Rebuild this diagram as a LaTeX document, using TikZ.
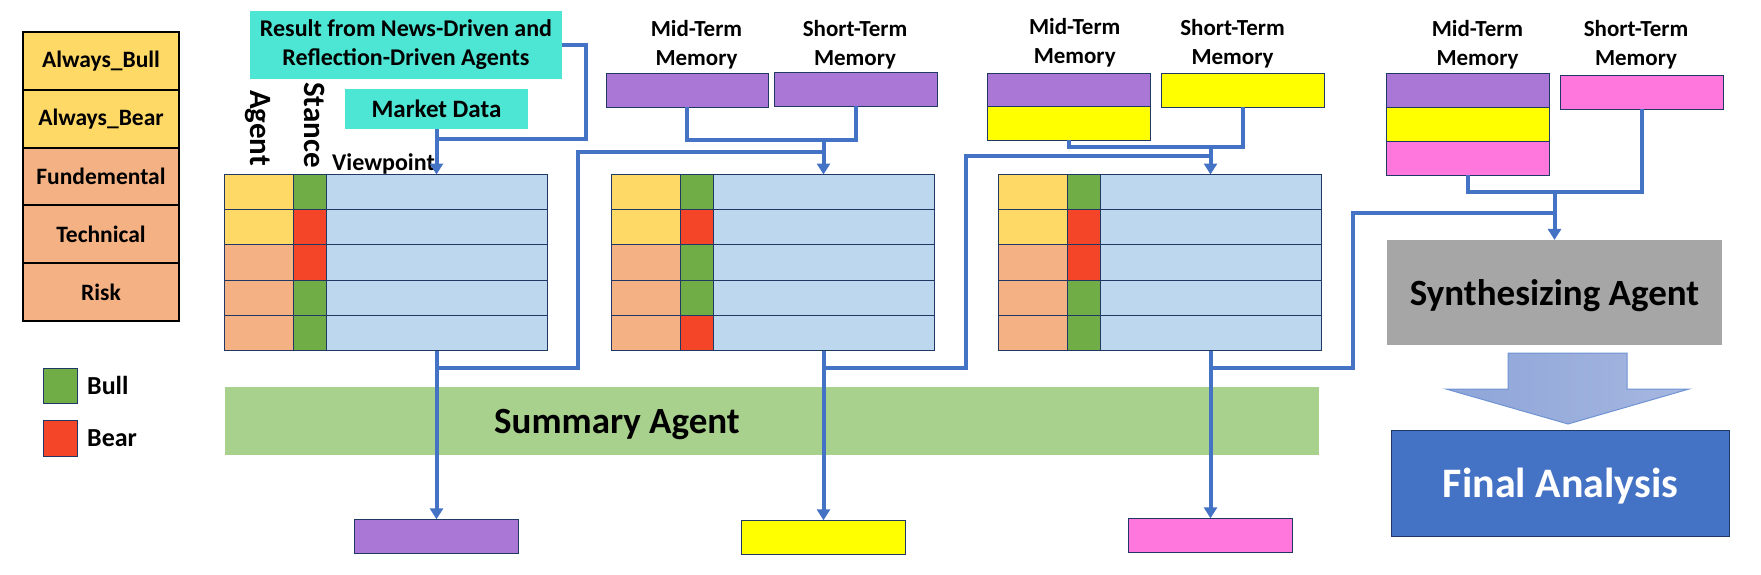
\documentclass[tikz,border=0pt]{standalone}
\usepackage{fontspec}
\setmainfont{Carlito}
\usetikzlibrary{arrows.meta}
\definecolor{yel}{HTML}{FFD966}
\definecolor{ora}{HTML}{F4B183}
\definecolor{bullc}{HTML}{70AD47}
\definecolor{bearc}{HTML}{F44528}
\definecolor{viewc}{HTML}{BDD7EE}
\definecolor{purp}{HTML}{AB77D6}
\definecolor{yelm}{HTML}{FFFF00}
\definecolor{pinkc}{HTML}{FF77DD}
\definecolor{tealc}{HTML}{4DE5D3}
\definecolor{sumc}{HTML}{A9D18E}
\definecolor{grayc}{HTML}{A6A6A6}
\definecolor{bluec}{HTML}{4472C4}
\definecolor{navy}{HTML}{1F3864}
\definecolor{arrl}{HTML}{8EA5D8}
\definecolor{arrr}{HTML}{A6B7E0}
\definecolor{arrb}{HTML}{6F93D3}
\begin{document}
\begin{tikzpicture}[x=1pt,y=-1pt,
  cell/.style={draw=navy,line width=1pt,anchor=north west,inner sep=0pt,outer sep=0pt,minimum height=35.2pt},
  agc/.style={cell,minimum width=69pt},
  stc/.style={cell,minimum width=33pt},
  vwc/.style={cell,minimum width=221pt,fill=viewc},
  membox/.style={draw=navy,line width=1pt,inner sep=0pt,outer sep=0pt,minimum width=163pt,minimum height=34pt},
  memlabel/.style={align=center,font=\fontsize{23}{29}\selectfont\bfseries,inner sep=0pt},
  conn/.style={draw=bluec,line width=4pt},
  arr/.style={conn,-{Triangle[width=13pt,length=11pt]}},
  leg/.style={draw=black,line width=2pt,anchor=north west,minimum width=156pt,minimum height=57.8pt,inner sep=0pt,outer sep=0pt,font=\fontsize{23.5}{28}\selectfont\bfseries},
  keybox/.style={draw=navy,line width=1pt,anchor=north west,minimum width=34pt,minimum height=35pt,inner sep=0pt,outer sep=0pt},
  keytext/.style={anchor=west,inner sep=0pt,font=\fontsize{26}{30}\selectfont\bfseries},
  teal box/.style={fill=tealc,inner sep=0pt,outer sep=0pt,align=center},
  hdr/.style={rotate=-90,anchor=base west,inner sep=0pt,font=\fontsize{31}{31}\selectfont\bfseries},
]
\useasboundingbox (0,0) rectangle (1761,574);

% ---------- legend ----------
\node[leg,fill=yel] (l1) at (23,32) {Always\_Bull};
\node[leg,fill=yel] (l2) at (23,89.8) {Always\_Bear};
\node[leg,fill=ora] (l3) at (23,147.6) {Fundemental};
\node[leg,fill=ora] (l4) at (23,205.4) {Technical};
\node[leg,fill=ora] (l5) at (23,263.2) {Risk};
\node[keybox,fill=bullc] (kbull) at (43,368) {};
\node[keytext] (tbull) at (87,385.5) {Bull};
\node[keybox,fill=bearc,minimum height=36pt] (kbear) at (43,420) {};
\node[keytext] (tbear) at (87,438) {Bear};

% ---------- summary bar (behind connectors) ----------
\node[fill=sumc,minimum width=1094pt,minimum height=68pt,inner sep=0pt,outer sep=0pt] (sum) at (772,421) {};
\node[inner sep=0pt,font=\fontsize{37}{40}\selectfont\bfseries] (sumt) at (617,424) {Summary Agent};

% ---------- inputs ----------
\node[teal box,minimum width=312pt,minimum height=68pt,font=\fontsize{24}{29}\selectfont\bfseries] (res) at (406,45) {Result from News-Driven and\\Reflection-Driven Agents};
\node[teal box,minimum width=183pt,minimum height=40pt,font=\fontsize{25}{29}\selectfont\bfseries] (md) at (436.5,109) {Market Data};
\node[hdr] (hagent) at (250.5,90) {Agent};
\node[hdr] (hstance) at (304,82) {Stance};
\node[anchor=base west,inner sep=0pt,font=\fontsize{24}{28}\selectfont\bfseries] (hview) at (332,170) {Viewpoint};

% ---------- tables ----------
\foreach \r/\ac/\sc in {1/yel/bullc,2/yel/bearc,3/ora/bearc,4/ora/bullc,5/ora/bullc}{
  \node[agc,fill=\ac] (t1a\r) at (224,{174.5+(\r-1)*35.2}) {};
  \node[stc,fill=\sc] (t1s\r) at (293,{174.5+(\r-1)*35.2}) {};
  \node[vwc] (t1v\r) at (326,{174.5+(\r-1)*35.2}) {};
}
\foreach \r/\ac/\sc in {1/yel/bullc,2/yel/bearc,3/ora/bullc,4/ora/bullc,5/ora/bearc}{
  \node[agc,fill=\ac] (t2a\r) at (611,{174.5+(\r-1)*35.2}) {};
  \node[stc,fill=\sc] (t2s\r) at (680,{174.5+(\r-1)*35.2}) {};
  \node[vwc] (t2v\r) at (713,{174.5+(\r-1)*35.2}) {};
}
\foreach \r/\ac/\sc in {1/yel/bullc,2/yel/bearc,3/ora/bearc,4/ora/bullc,5/ora/bullc}{
  \node[agc,fill=\ac] (t3a\r) at (998,{174.5+(\r-1)*35.2}) {};
  \node[stc,fill=\sc] (t3s\r) at (1067,{174.5+(\r-1)*35.2}) {};
  \node[vwc] (t3v\r) at (1100,{174.5+(\r-1)*35.2}) {};
}

% ---------- memories ----------
\node[memlabel] (lab2m) at (696.5,44.5) {Mid-Term\\Memory};
\node[memlabel] (lab2s) at (855,44.5) {Short-Term\\Memory};
\node[memlabel] (lab3m) at (1074.7,42.3) {Mid-Term\\Memory};
\node[memlabel] (lab3s) at (1232.5,43.5) {Short-Term\\Memory};
\node[memlabel] (labrm) at (1477.5,44.5) {Mid-Term\\Memory};
\node[memlabel] (labrs) at (1636,44.5) {Short-Term\\Memory};

\node[membox,fill=purp,minimum width=162pt] (m2m) at (687,90) {};
\node[membox,fill=purp] (m2s) at (855.5,89) {};
\node[membox,fill=purp,minimum height=33.5pt] (m3a) at (1068.5,89.8) {};
\node[membox,fill=yelm,minimum height=33.5pt] (m3b) at (1068.5,123.3) {};
\node[membox,fill=yelm] (m3s) at (1242.5,90.2) {};
\node[membox,fill=purp,minimum height=33.9pt] (ra) at (1467.5,90.6) {};
\node[membox,fill=yelm,minimum height=33.9pt] (rb) at (1467.5,124.5) {};
\node[membox,fill=pinkc,minimum height=33.9pt] (rc) at (1467.5,158.4) {};
\node[membox,fill=pinkc] (rs) at (1641.5,92.2) {};

% ---------- outputs ----------
\node[membox,fill=purp,minimum width=164.5pt] (o1) at (436.5,536.3) {};
\node[membox,fill=yelm,minimum width=164.5pt] (o2) at (823.5,537.3) {};
\node[membox,fill=pinkc,minimum width=164.5pt] (o3) at (1210.5,535.3) {};

% ---------- synthesizing / final ----------
\node[fill=grayc,minimum width=335pt,minimum height=104.7pt,inner sep=0pt,outer sep=0pt,text depth=0pt,font=\fontsize{37}{40}\selectfont\bfseries] (syn) at (1554.5,292.3) {Synthesizing Agent};
\draw[draw=arrb,line width=1pt,left color=arrl,right color=arrr]
  (1508,353) -- (1627,353) -- (1627,389) -- (1689,389) -- (1568,424) -- (1446,389) -- (1508,389) -- cycle;
\node[fill=bluec,draw=navy,line width=1.5pt,minimum width=338pt,minimum height=106pt,inner sep=0pt,outer sep=0pt,text depth=0.08em,text=white,font=\fontsize{42}{44}\selectfont\bfseries] (fin) at (1560.5,483.3) {Final Analysis};

% ---------- connectors ----------
\coordinate (b1) at (586,139);
\draw[conn] (res.east) -| (b1) -- (b1 -| md.south);
\draw[arr] (md.south) -- (t1v1.north);
\draw[arr] (t1v5.south) -- (o1.north);
\coordinate (j1) at (436.5,368);
\coordinate (b2) at (578,152);
\coordinate (e2) at (823.5,152);
\draw[conn] (j1) -| (b2) -- (e2);

\draw[conn] (m2m.south) -- ++(0,33) -| (m2s.south);
\coordinate (k2) at (823.5,140);
\draw[arr] (k2) -- (t2v1.north);
\draw[arr] (t2v5.south) -- (o2.north);
\coordinate (j2) at (823.5,367.5);
\coordinate (b3) at (966,156);
\coordinate (e3) at (1210.5,156);
\draw[conn] (j2) -| (b3) -- (e3);

\draw[conn] (m3b.south) -- ++(0,6.5) -| (m3s.south);
\coordinate (k3) at (1210.5,146.5);
\draw[arr] (k3) -- (t3v1.north);
\draw[arr] (t3v5.south) -- (o3.north);
\coordinate (j3) at (1210.5,368);
\coordinate (b4) at (1352.5,212.5);
\coordinate (e4) at (1554.5,212.5);
\draw[conn] (j3) -| (b4) -- (e4);

\draw[conn] (rc.south) -- ++(0,17) -| (rs.south);
\coordinate (k4) at (1554.5,192.3);
\draw[arr] (k4) -- (syn.north);
\end{tikzpicture}
\end{document}
